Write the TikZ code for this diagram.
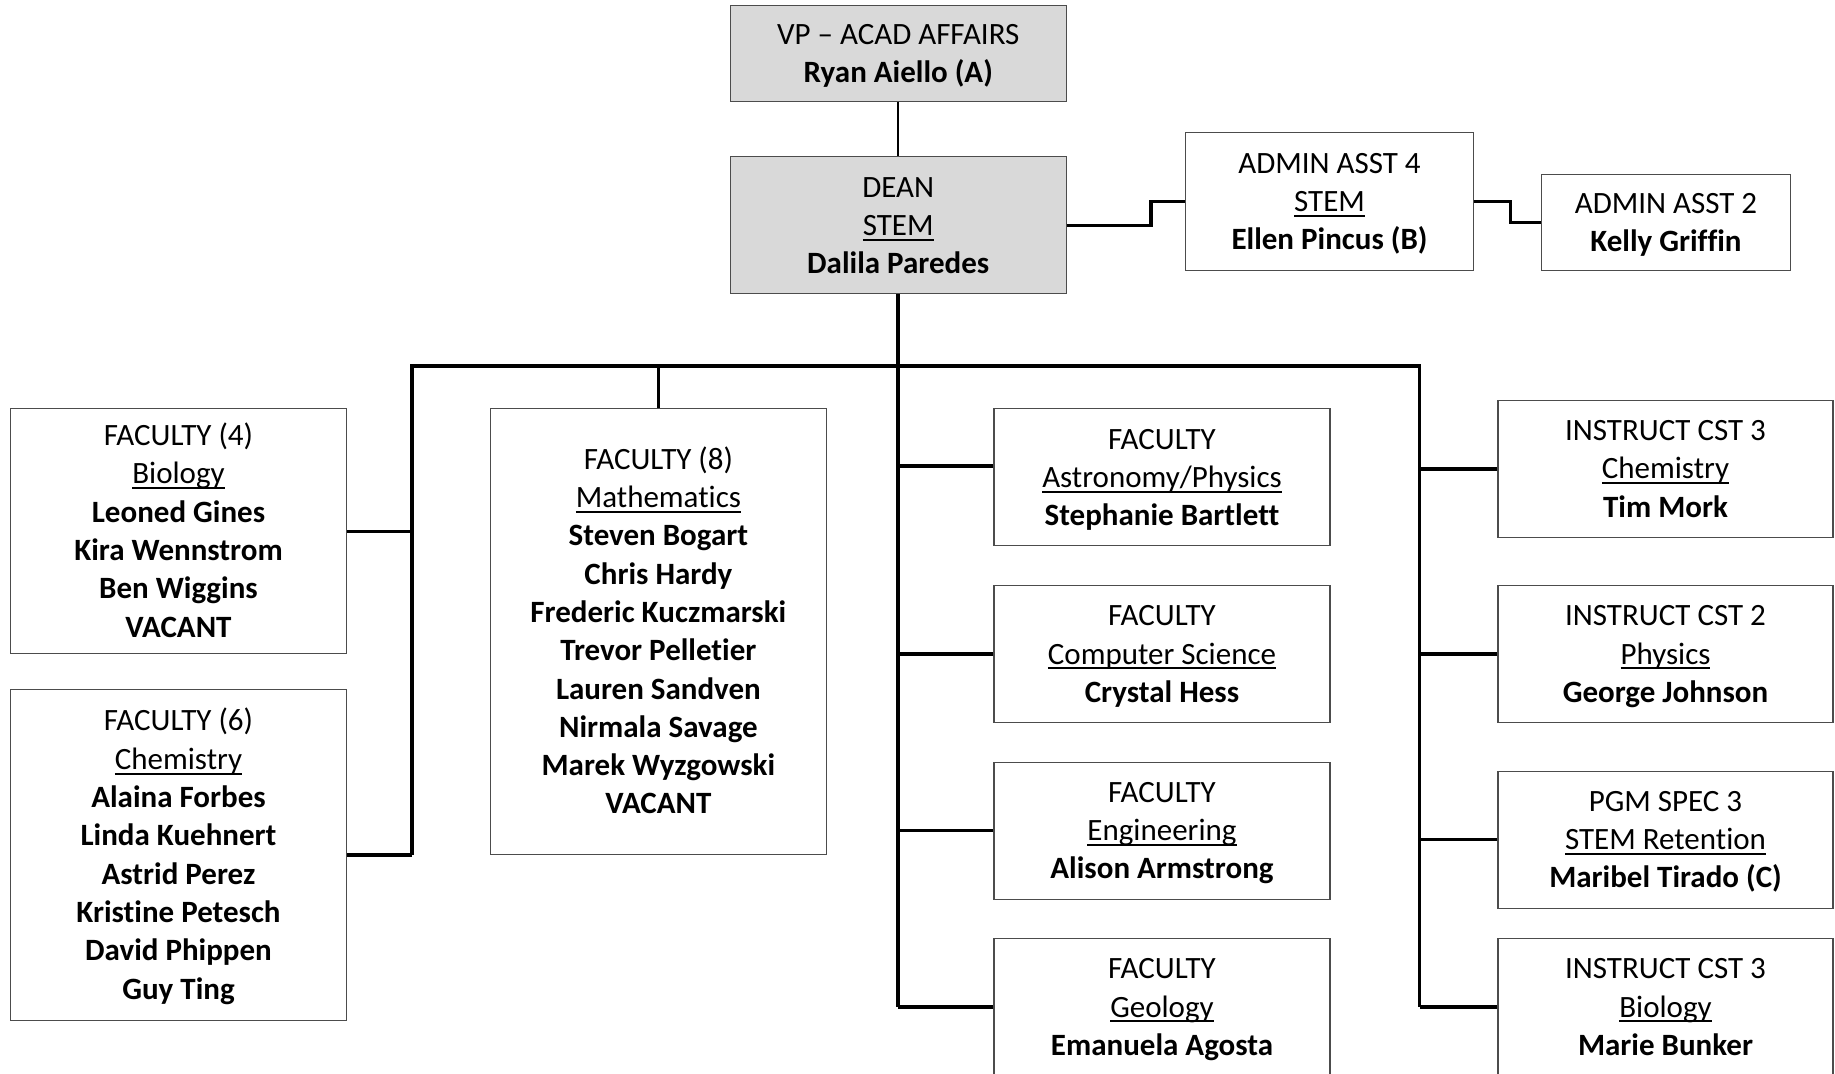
\documentclass[tikz,border=0pt]{standalone}
\usepackage{fontspec}
\setmainfont{Carlito}[Ligatures=NoCommon]
\newcommand\ulx[1]{\setbox0=\hbox{#1}\rlap{\rule[-5.3pt]{\wd0}{2pt}}\box0}
\newcommand\topst{\rule{0pt}{32pt}}
\newcommand\botst{\rule[-12pt]{0pt}{0pt}}
\tikzset{
  box/.style={draw=black!70, line width=1.2pt, fill=white, inner sep=0pt, align=center,
    font=\fontsize{31}{38.3}\selectfont, minimum width=336pt},
  graybox/.style={box, fill=black!15},
  bus/.style={line width=3.6pt, black},
  thinline/.style={line width=2.4pt, black},
}
\begin{document}
\begin{tikzpicture}[x=1pt,y=-1pt]
\useasboundingbox (0,0) rectangle (1835,1073);
\fill[white] (0,0) rectangle (1835,1073);
% top
\node[graybox, minimum height=96pt] (vp) at (898.2,53.8) {\topst VP -- ACAD AFFAIRS\\\textbf{Ryan Aiello (A)}\botst};
\node[graybox, minimum height=137pt] (dean) at (898.2,225.3) {\topst DEAN\\\ulx{STEM}\\\textbf{Dalila Paredes}\botst};
\node[box, minimum width=288pt, minimum height=138pt] (admin4) at (1329.5,201.3) {\topst ADMIN ASST 4\\\ulx{STEM}\\\textbf{Ellen Pincus (B)}\botst};
\node[box, minimum width=249pt, minimum height=96pt] (admin2) at (1666,222.4) {\topst ADMIN ASST 2\\\textbf{Kelly Griffin}\botst};
% left
\node[box, minimum height=245pt] (bio) at (178.5,531.3) {\topst FACULTY (4)\\\ulx{Biology}\\\textbf{Leoned Gines}\\\textbf{Kira Wennstrom}\\\textbf{Ben Wiggins}\\\textbf{VACANT}\botst};
\node[box, minimum height=331pt] (chem) at (178.5,855) {\topst FACULTY (6)\\\ulx{Chemistry}\\\textbf{Alaina Forbes}\\\textbf{Linda Kuehnert}\\\textbf{Astrid Perez}\\\textbf{Kristine Petesch}\\\textbf{David Phippen}\\\textbf{Guy Ting}\botst};
\node[box, minimum height=446pt] (math) at (658.4,631.6) {\topst FACULTY (8)\\\ulx{Mathematics}\\\textbf{Steven Bogart}\\\textbf{Chris Hardy}\\\textbf{Frederic Kuczmarski}\\\textbf{Trevor Pelletier}\\\textbf{Lauren Sandven}\\\textbf{Nirmala Savage}\\\textbf{Marek Wyzgowski}\\\textbf{VACANT}\botst};
% middle
\node[box, minimum height=137pt] (astro) at (1162,477.3) {\topst FACULTY\\\ulx{Astronomy/Physics}\\\textbf{Stephanie Bartlett}\botst};
\node[box, minimum height=137pt] (cs) at (1162,654) {\topst FACULTY\\\ulx{Computer Science}\\\textbf{Crystal Hess}\botst};
\node[box, minimum height=137pt] (eng) at (1162,830.6) {\topst FACULTY\\\ulx{Engineering}\\\textbf{Alison Armstrong}\botst};
\node[box, minimum height=137pt] (geo) at (1162,1007) {\topst FACULTY\\\ulx{Geology}\\\textbf{Emanuela Agosta}\botst};
% right
\node[box, minimum width=335pt, minimum height=137pt] (chem3) at (1665.5,468.8) {\topst INSTRUCT CST 3\\\ulx{Chemistry}\\\textbf{Tim Mork}\botst};
\node[box, minimum width=335pt, minimum height=137pt] (phys3) at (1665.5,654) {\topst INSTRUCT CST 2\\\ulx{Physics}\\\textbf{George Johnson}\botst};
\node[box, minimum width=335pt, minimum height=137pt] (pgm) at (1665.5,839.6) {\topst PGM SPEC 3\\\ulx{STEM Retention}\\\textbf{Maribel Tirado (C)}\botst};
\node[box, minimum width=335pt, minimum height=137pt] (bio3) at (1665.5,1007) {\topst INSTRUCT CST 3\\\ulx{Biology}\\\textbf{Marie Bunker}\botst};
% bus coordinates
\coordinate (busL) at (412,366);
\coordinate (busR) at (1419.6,366);
% connectors
\draw[thinline] (vp.south) -- (dean.north);
\draw[bus] (dean.east) -- ++(84,0) |- (admin4.west);
\draw[bus] (admin4.east) -- ++(36.3,0) |- (admin2.west);
\draw[bus] (dean.south) -- (dean.south |- geo.west);
\draw[bus] (busL |- chem.east) -- (busL) -- (busR) -- (busR |- bio3.west);
\draw[bus] (bio.east) -- (bio.east -| busL);
\draw[bus] (chem.east) -- (chem.east -| busL);
\draw[bus] (math.north) -- (math.north |- busL);
\draw[bus] ([yshift=11.5pt]astro.west) -- ([yshift=11.5pt]astro.west -| dean.south);
\draw[bus] (cs.west) -- (cs.west -| dean.south);
\draw[bus] (eng.west) -- (eng.west -| dean.south);
\draw[bus] (geo.west) -- (geo.west -| dean.south);
\draw[bus] (chem3.west) -- (chem3.west -| busR);
\draw[bus] (phys3.west) -- (phys3.west -| busR);
\draw[bus] (pgm.west) -- (pgm.west -| busR);
\draw[bus] (bio3.west) -- (bio3.west -| busR);
\end{tikzpicture}
\end{document}
